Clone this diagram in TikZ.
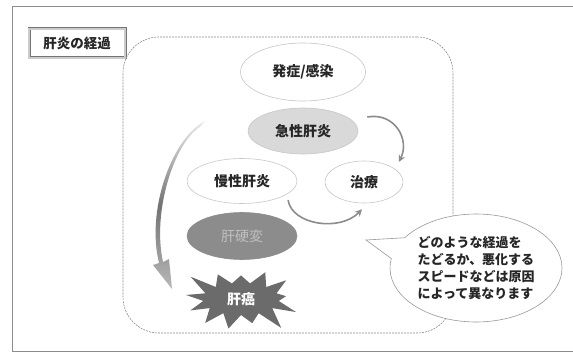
\documentclass[tikz,border=0pt]{standalone}
\usepackage{fontspec}
\setmainfont{Noto Sans CJK JP}
\usetikzlibrary{shapes.geometric,shapes.symbols,shapes.callouts,arrows.meta,calc}
\begin{document}
\begin{tikzpicture}[x=1pt,y=-1pt,
  lbl/.style={font=\fontsize{14}{16}\selectfont\bfseries, text=black!85},
  oval/.style={ellipse, draw=black!22, line width=0.6pt, inner sep=0pt},
  arr/.style={draw=black!45, line width=1.6pt, -{Stealth[length=7pt,width=7pt]}},
]
\useasboundingbox (0,0) rectangle (573,353);
\clip (0,0) rectangle (573,353);
\fill[white] (0,0) rectangle (573,353);
\draw[black!45, line width=1pt] (12,7) rectangle (590,351.5);
\node[draw=black!55, double=black!20, double distance=1.6pt, line width=0.7pt,
      minimum width=96pt, minimum height=29pt,
      font=\fontsize{13.5}{16}\selectfont\bfseries, text=black!85] (title) at (77,43.5) {肝炎の経過};
\node[draw=black!45, dash pattern=on 2pt off 1pt, line width=0.6pt, rounded corners=36pt,
      minimum width=330pt, minimum height=296pt, inner sep=0pt] (panel) at (288,185) {};
% big shaded arrow
\shade[top color=black!8, bottom color=black!28, middle color=black!55]
  (205,121) .. controls (172,138) and (146,210) .. (159,263) -- (153,265) -- (172,289)
  -- (169,259) -- (163,262) .. controls (152,212) and (174,143) .. (200,127) -- cycle;
\node[oval, fill=white, minimum width=125pt, minimum height=58pt, lbl] (onset) at (303,72) {発症/感染};
\node[oval, fill=black!15, minimum width=110pt, minimum height=46pt, lbl] (acute) at (303,131) {急性肝炎};
\node[oval, fill=white, minimum width=110pt, minimum height=45pt, lbl] (chronic) at (242,181) {慢性肝炎};
\node[oval, fill=white, minimum width=78pt, minimum height=42pt, lbl] (treat) at (364,182) {治療};
\node[oval, fill=black!45, draw=black!45, minimum width=110pt, minimum height=47pt,
      font=\fontsize{14}{16}\selectfont, text=black!25] (cirr) at (242,236) {肝硬変};
\node[starburst, fill=black!58, starburst points=13, starburst point height=24pt,
      random starburst=3, minimum width=124pt, minimum height=80pt, inner sep=0pt,
      font=\fontsize{14}{16}\selectfont\bfseries, text=white] (cancer) at (241,299) {肝癌};
\draw[arr] ($(acute.east)+(9,-14)$) .. controls (395,112) and (410,140) .. ($(treat.north east)+(7,-5)$);
\draw[arr] ($(chronic.south east)+(7,3)$) .. controls (292,225) and (340,232) .. ($(treat.south)+(-2,6)$);
\node[ellipse callout, draw=black!40, fill=white, line width=0.6pt,
      minimum width=172pt, minimum height=108pt, inner sep=0pt,
      callout absolute pointer={(366,240)}, callout pointer arc=24,
      align=left, font=\fontsize{13}{17}\selectfont\bfseries, text=black!85] (callout) at (476,268)
  {どのような経過を\\たどるか、悪化する\\スピードなどは原因\\によって異なります};
\end{tikzpicture}
\end{document}
